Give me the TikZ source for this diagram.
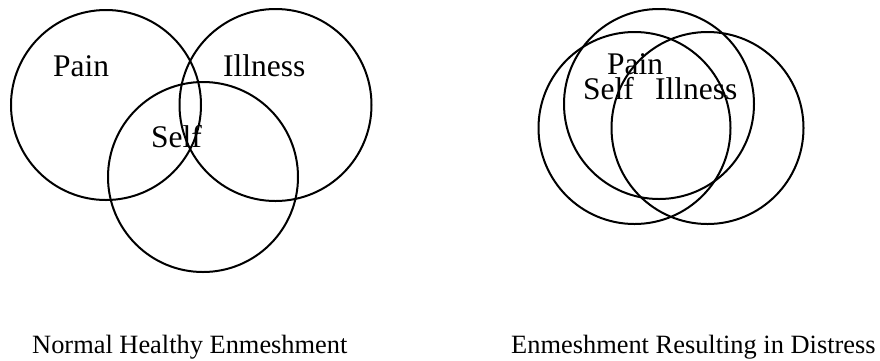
\documentclass[tikz,border=0pt]{standalone}
\usepackage{fontspec}
\setmainfont{Liberation Serif}
\usetikzlibrary{positioning}

\begin{document}
\begin{tikzpicture}[x=1pt, y=-1pt,
  ring/.style={circle, draw, line width=2pt, inner sep=0pt, minimum size=#1},
  lbl/.style={anchor=base west, inner sep=0pt, font=\fontsize{31.5}{36}\selectfont},
  caption/.style={anchor=base west, inner sep=0pt, font=\fontsize{26.4}{30}\selectfont}]
  \useasboundingbox (0,0) rectangle (880,360);
  % normal healthy enmeshment
  \node[ring=190pt] (painL) at (106,105) {};
  \node[ring=192pt] (illL) at (275.5,105) {};
  \node[ring=190pt] (selfL) at (203,177) {};
  \node[lbl] (painLt) at (53,76) {Pain};
  \node[lbl] (illLt) at (223,76) {Illness};
  \node[lbl] (selfLt) at (151,147) {Self};
  % enmeshment resulting in distress
  \node[ring=190pt] (painR) at (659,104) {};
  \node[ring=192pt] (selfR) at (634.5,128) {};
  \node[ring=192pt] (illR) at (707.5,128) {};
  \node[lbl] (painRt) at (607,74) {Pain};
  \node[lbl] (selfRt) at (583,99) {Self};
  \node[lbl] (illRt) at (655,99) {Illness};
  % captions
  \node[caption] (capL) at (32,353) {Normal Healthy Enmeshment};
  \node[caption] (capR) at (511,353) {Enmeshment Resulting in Distress};
\end{tikzpicture}
\end{document}
